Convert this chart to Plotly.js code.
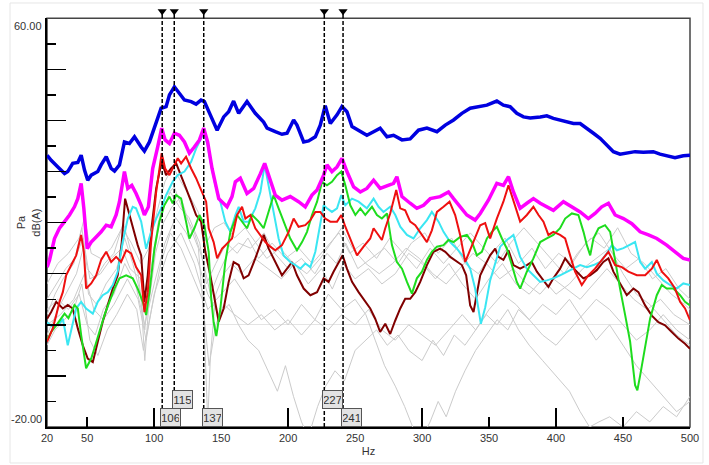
<!DOCTYPE html>
<html><head><meta charset="utf-8">
<script src="https://cdn.plot.ly/plotly-3.0.1.min.js"></script>
<style>html,body{margin:0;padding:0;background:#fff}#chart{width:709px;height:465px}</style>
</head><body><div id="chart"></div>
<script>
// ---- data: [Hz, dB(A)] pairs ----
const blueSeries = [[20.1,33.2],[23.1,32.2],[28.1,30.9],[33.1,29.6],[35.5,30.0],[39.2,31.6],[43.0,31.8],[45.5,33.2],[48.0,30.3],[50.4,28.3],[53.0,29.3],[57.9,30.0],[60.4,31.3],[64.2,32.9],[67.9,30.6],[70.4,30.1],[74.1,31.3],[77.8,35.8],[81.5,35.5],[85.3,36.8],[90.3,34.8],[92.7,34.0],[96.5,35.8],[100.2,38.8],[105.2,42.4],[108.9,42.7],[111.4,45.0],[115.1,46.6],[118.8,45.3],[122.6,44.0],[127.6,43.7],[131.3,43.2],[135.0,44.0],[137.5,43.7],[141.9,41.1],[147.0,38.1],[151.9,40.7],[155.6,41.7],[159.3,43.8],[163.1,41.4],[169.3,43.7],[175.5,41.4],[181.7,39.7],[184.3,38.5],[190.4,37.8],[195.4,37.3],[199.2,37.5],[204.1,40.1],[206.6,39.1],[211.6,35.8],[215.3,36.0],[220.3,36.8],[224.0,39.1],[227.7,42.9],[231.5,39.4],[236.5,41.1],[240.2,42.7],[243.9,41.7],[247.7,38.8],[252.6,38.1],[258.8,37.1],[263.8,37.8],[268.7,38.5],[273.8,36.8],[278.7,37.1],[285.0,36.2],[291.1,36.4],[297.3,38.1],[303.6,38.5],[311.1,37.8],[317.3,39.1],[323.5,40.1],[329.7,41.4],[335.9,42.4],[343.4,42.7],[348.4,43.0],[355.8,43.8],[360.7,43.0],[365.7,42.7],[370.7,41.4],[375.7,40.7],[380.7,40.5],[388.2,40.7],[393.1,40.9],[398.0,40.4],[403.0,40.1],[408.0,39.7],[413.0,39.4],[418.0,39.4],[423.0,38.5],[427.9,37.5],[432.9,36.5],[437.9,35.2],[442.8,33.9],[447.8,33.4],[452.8,33.6],[459.0,33.9],[465.2,33.8],[472.6,33.9],[477.6,33.4],[483.8,33.1],[488.8,32.7],[495.0,33.1],[500,33.2]];

const magentaSeries = [[20.1,11.3],[21.9,12.7],[25.6,16.9],[29.3,18.9],[33.1,20.2],[36.8,21.5],[40.5,23.1],[43.0,24.7],[45.5,27.7],[47.5,22.8],[50.0,14.9],[53.0,16.2],[56.7,17.2],[60.4,18.2],[64.2,19.5],[67.9,19.2],[71.6,21.5],[74.1,24.1],[77.8,30.0],[80.3,26.7],[83.3,27.3],[86.5,25.7],[90.3,23.4],[92.7,21.5],[95.7,23.1],[98.9,30.6],[102.6,34.8],[105.6,38.5],[108.2,36.2],[111.4,35.5],[115.1,37.5],[118.8,37.1],[122.6,35.8],[126.3,33.6],[130.0,34.8],[133.8,36.2],[137.0,38.5],[139.9,35.8],[143.2,30.6],[148.2,24.7],[154.4,23.1],[158.1,25.1],[160.6,28.0],[164.3,28.7],[169.3,25.7],[174.3,26.7],[179.3,29.6],[182.5,31.6],[185.4,29.3],[190.4,25.4],[195.4,24.4],[201.6,25.1],[207.8,24.1],[212.8,23.1],[217.8,25.4],[221.6,26.4],[226.5,29.3],[229.0,31.3],[232.7,30.0],[236.5,30.9],[240.2,32.6],[243.9,30.0],[248.9,27.0],[253.9,26.0],[258.8,26.7],[263.8,28.3],[268.7,26.7],[273.8,27.3],[278.7,27.7],[281.2,29.0],[285.0,25.1],[291.1,23.8],[296.1,22.8],[301.1,23.4],[306.1,24.7],[313.5,25.1],[319.7,26.0],[323.5,24.7],[328.4,23.1],[333.4,21.5],[339.6,20.5],[343.4,21.8],[349.5,24.4],[355.8,27.7],[360.7,27.3],[364.5,29.0],[368.2,26.0],[373.2,22.8],[378.2,23.8],[383.1,24.7],[388.2,23.8],[393.1,23.1],[398.0,22.4],[405.5,24.1],[411.8,23.1],[418.0,22.1],[424.1,20.8],[429.1,21.8],[434.1,23.1],[439.1,23.8],[444.1,21.5],[450.3,20.8],[456.6,19.8],[462.8,18.2],[469.0,17.6],[475.2,16.9],[482.6,15.6],[488.8,14.3],[495.0,13.0],[500,12.7]];

const redSeries = [[20.1,-3.3],[21.9,-2.0],[24.3,-0.7],[26.9,1.9],[29.3,4.5],[31.8,6.4],[34.3,9.7],[38.1,11.7],[41.8,13.6],[45.5,17.6],[47.5,14.3],[49.2,7.1],[53.0,8.1],[56.7,9.7],[60.4,12.7],[64.2,14.3],[67.9,12.3],[71.6,13.3],[75.3,12.3],[79.1,14.6],[82.8,14.0],[86.5,11.3],[90.3,9.7],[92.7,2.5],[95.2,6.4],[97.7,16.2],[101.5,26.0],[105.6,33.6],[108.2,30.6],[111.4,29.3],[115.1,31.3],[117.6,32.6],[120.1,31.6],[123.8,32.9],[127.6,30.6],[131.3,28.7],[135.0,26.4],[138.8,24.1],[140.7,18.9],[144.4,16.2],[147.0,13.0],[150.7,14.9],[154.4,15.9],[158.1,16.9],[161.9,21.5],[165.6,23.1],[168.1,20.8],[171.8,21.5],[175.5,18.9],[179.3,17.6],[183.0,16.2],[186.7,15.3],[190.4,14.6],[195.4,15.6],[200.4,18.2],[204.1,20.8],[207.8,19.2],[212.8,19.5],[216.6,20.5],[220.3,22.1],[224.0,22.1],[227.7,20.8],[231.5,20.2],[236.5,20.2],[239.7,21.5],[242.7,19.2],[247.7,15.9],[251.4,13.6],[256.3,15.3],[261.3,16.9],[263.8,18.9],[267.5,17.6],[270.0,16.6],[272.5,18.9],[276.2,21.8],[280.7,26.4],[283.7,22.8],[287.4,22.4],[291.1,20.2],[294.9,19.5],[298.6,18.2],[303.6,16.2],[307.3,18.5],[311.1,22.1],[316.0,23.1],[320.5,24.1],[324.7,21.5],[328.4,17.6],[332.2,12.3],[335.9,14.6],[339.6,16.9],[343.4,19.5],[347.1,19.9],[350.8,16.9],[355.8,20.8],[360.7,24.1],[364.5,27.3],[368.2,24.1],[370.7,22.1],[373.2,20.2],[378.2,21.5],[383.1,23.1],[386.9,21.5],[390.6,20.2],[394.3,17.6],[398.0,18.2],[403.0,17.6],[406.8,16.9],[410.5,13.6],[414.2,10.4],[419.2,7.8],[424.1,9.7],[429.1,11.0],[434.1,12.7],[439.1,14.3],[444.1,11.7],[449.1,11.3],[454.0,10.4],[460.3,9.7],[466.5,9.7],[471.5,11.0],[475.2,12.7],[479.0,10.4],[483.8,9.1],[488.8,7.1],[492.6,4.5],[496.3,3.2],[500,0.9]];

const greenSeries = [[20.1,-3.0],[23.1,-1.4],[26.9,-0.1],[30.6,1.2],[33.1,2.2],[36.0,1.3],[40.5,3.9],[43.0,3.2],[45.5,-2.0],[49.2,-8.5],[53.0,-6.6],[55.4,-4.6],[59.2,-1.4],[62.9,1.9],[66.6,4.5],[70.4,7.1],[74.1,9.1],[79.1,9.7],[84.0,9.1],[87.7,7.1],[91.5,4.5],[94.0,1.9],[96.5,6.4],[100.2,14.9],[103.9,20.2],[107.6,23.4],[111.4,25.1],[113.8,23.8],[116.4,25.4],[120.1,24.7],[123.8,20.2],[126.3,16.9],[130.0,18.9],[133.8,21.5],[137.5,19.5],[140.7,14.3],[142.5,5.4],[144.4,0.5],[146.4,-2.2],[149.4,3.1],[153.1,12.3],[156.9,18.2],[161.9,21.5],[165.6,20.2],[169.3,18.9],[173.1,21.5],[178.0,20.2],[181.7,18.9],[186.7,23.4],[189.2,25.4],[192.9,22.8],[196.6,20.2],[201.6,16.9],[206.6,14.6],[210.4,16.2],[214.1,18.2],[217.8,21.5],[221.6,24.1],[225.3,28.0],[229.0,27.3],[232.7,28.0],[236.5,29.3],[239.7,30.0],[242.7,27.3],[246.4,23.4],[250.2,21.5],[253.9,22.8],[257.6,21.5],[262.6,23.1],[266.3,21.5],[270.0,20.8],[273.8,21.8],[277.5,15.6],[281.2,12.3],[285.0,11.0],[288.7,8.4],[292.4,6.1],[296.1,9.1],[299.9,10.4],[303.6,12.7],[307.3,14.3],[311.1,15.3],[316.0,15.6],[319.7,16.6],[323.5,16.2],[328.4,17.2],[333.4,17.6],[337.2,16.2],[340.9,13.6],[344.6,14.3],[348.4,16.9],[352.1,18.2],[355.8,19.2],[359.6,16.9],[363.3,14.9],[367.0,11.7],[370.7,8.4],[373.2,7.1],[378.2,10.4],[383.1,13.0],[388.2,16.2],[393.1,16.9],[398.0,17.6],[403.0,18.9],[406.8,20.8],[411.8,21.8],[416.7,21.5],[420.5,18.2],[423.0,15.6],[425.5,13.6],[427.9,16.9],[431.7,18.9],[436.6,19.5],[440.4,18.2],[444.1,12.3],[447.8,7.1],[451.6,1.9],[455.3,-3.3],[459.0,-11.8],[460.7,-12.8],[462.8,-9.9],[466.5,-4.6],[470.2,1.2],[475.2,5.8],[478.9,7.8],[482.6,7.1],[487.6,7.1],[492.6,5.8],[496.3,4.5],[500,3.8]];

const cyanSeries = [[20.1,0.5],[24.3,-0.4],[29.3,0.2],[31.8,1.2],[35.5,-4.0],[38.1,-0.8],[41.8,3.2],[45.5,4.5],[49.2,3.2],[54.2,2.2],[57.9,4.5],[61.6,5.8],[65.4,6.4],[69.1,7.8],[72.8,10.4],[76.5,16.2],[80.3,20.8],[84.0,23.1],[86.5,22.8],[90.3,20.2],[94.0,14.9],[97.7,18.2],[101.5,20.8],[105.2,22.8],[108.9,25.4],[113.8,28.0],[117.6,29.3],[122.6,30.0],[127.6,31.9],[131.3,34.5],[135.0,36.5],[137.0,37.5],[139.9,35.2],[142.0,31.9],[145.7,27.3],[149.4,24.1],[153.1,20.2],[156.9,18.2],[160.6,21.5],[163.1,23.1],[166.8,20.2],[170.5,20.2],[175.5,22.8],[179.3,26.0],[182.5,31.3],[185.4,27.3],[189.2,21.5],[192.9,16.9],[196.6,13.6],[201.6,12.3],[205.4,11.7],[209.1,11.0],[212.8,12.0],[216.6,11.3],[220.3,14.3],[224.0,20.2],[226.5,23.4],[229.0,22.8],[232.7,22.1],[236.5,22.8],[239.7,25.4],[242.7,23.4],[247.7,24.7],[252.6,24.1],[258.8,22.8],[263.8,24.7],[267.5,23.1],[271.2,22.1],[276.2,23.1],[280.0,21.5],[283.7,19.2],[288.7,17.6],[293.6,16.9],[298.6,18.9],[303.6,20.5],[307.3,22.1],[312.3,20.2],[316.0,18.2],[321.0,16.2],[326.0,14.9],[330.9,13.3],[335.9,11.0],[339.6,7.1],[343.9,0.2],[347.1,3.4],[350.8,8.7],[354.6,12.0],[358.3,15.3],[363.3,16.6],[368.2,17.6],[373.2,13.3],[378.2,11.0],[383.1,9.7],[388.2,8.4],[393.1,8.7],[398.0,9.1],[403.0,9.7],[408.0,10.4],[413.0,11.0],[418.0,11.7],[423.0,11.3],[428.0,11.7],[433.0,12.3],[437.9,14.0],[441.7,15.6],[445.4,14.6],[450.3,15.0],[455.3,15.6],[459.0,16.2],[462.8,12.3],[466.5,11.0],[471.5,12.3],[475.2,10.0],[480.1,8.7],[485.1,7.8],[490.1,7.1],[495.0,8.1],[500,7.8]];

const maroonSeries = [[20.1,1.2],[23.1,2.5],[26.9,4.5],[29.3,3.9],[31.8,3.2],[35.5,3.9],[39.2,3.2],[43.0,-0.7],[46.7,-4.0],[50.4,-6.6],[54.2,-7.3],[57.9,-3.3],[61.6,0.6],[65.4,3.9],[69.1,7.1],[72.8,9.7],[75.8,16.2],[78.3,24.7],[81.5,21.5],[84.0,19.5],[87.7,15.6],[90.3,13.6],[92.7,4.5],[95.2,9.7],[97.7,18.2],[101.5,26.7],[105.6,32.0],[108.9,29.3],[112.6,30.6],[116.4,31.6],[120.1,29.3],[123.8,26.7],[127.6,24.1],[131.3,21.5],[135.0,20.2],[138.2,14.3],[141.9,9.7],[145.7,3.9],[148.2,0.6],[151.9,3.2],[155.6,8.4],[159.3,12.3],[163.1,11.7],[166.8,9.1],[170.5,9.7],[175.5,13.0],[179.3,15.6],[181.8,17.6],[185.5,14.9],[190.4,12.3],[195.4,9.7],[199.2,11.0],[202.9,12.3],[206.6,9.7],[211.6,7.1],[216.6,5.8],[221.6,6.4],[226.5,9.1],[230.2,8.4],[233.9,10.4],[237.7,12.3],[240.7,13.6],[243.9,11.0],[247.7,8.4],[252.6,6.4],[257.6,4.5],[261.3,3.2],[265.0,1.2],[268.7,-1.4],[272.5,0.2],[276.2,-1.8],[279.9,0.8],[283.7,3.2],[287.4,5.1],[291.1,5.1],[294.9,6.4],[298.6,8.4],[303.6,11.7],[308.5,14.3],[313.5,14.9],[317.3,14.3],[321.0,13.3],[326.0,12.3],[329.7,11.7],[332.9,9.7],[335.9,3.8],[338.4,2.5],[340.9,6.4],[343.4,9.7],[347.1,11.7],[350.8,13.6],[354.6,14.9],[357.0,13.3],[360.7,12.7],[364.5,14.6],[368.2,11.7],[373.2,11.0],[378.2,11.7],[381.9,12.3],[385.7,10.4],[390.6,8.7],[394.3,7.4],[398.0,9.1],[403.0,11.0],[406.8,13.0],[410.5,11.7],[415.5,10.4],[420.4,9.1],[425.4,9.7],[430.4,10.7],[435.3,12.3],[439.1,13.0],[442.8,10.4],[447.8,8.1],[452.8,5.8],[457.8,7.1],[461.5,6.4],[466.5,3.8],[471.5,1.8],[476.4,0.5],[481.4,-0.1],[486.4,-1.4],[491.4,-2.7],[496.3,-3.7],[500,-4.7]];

const gray1 = [[20,2],[26,6],[32,9],[40,12],[46,19],[50,11],[56,9],[63,12],[70,14],[77,20],[82,15],[88,10],[93,-1],[97,10],[103,20],[108,25],[115,27],[122,22],[130,18],[137,12],[142,6],[148,10],[155,14],[163,16],[172,15],[182,18],[190,14],[200,11],[210,13],[220,10],[229,14],[236,12],[243,16],[252,11],[262,13],[272,15],[282,12],[292,16],[302,18],[312,14],[322,17],[332,12],[342,10],[352,14],[362,17],[372,12],[382,15],[392,11],[402,14],[412,12],[422,16],[432,18],[442,14],[452,11],[462,13],[472,9],[482,11],[492,7],[500,5]];
const gray2 = [[20,-2],[25,1],[30,4],[36,7],[42,10],[47,15],[51,6],[57,4],[64,8],[72,11],[78,17],[84,12],[90,6],[93,-7],[96,4],[101,14],[107,20],[113,23],[120,25],[127,19],[133,15],[137,2],[139,-12],[140,-19],[142,-6],[146,6],[152,10],[158,12],[165,10],[175,13],[185,11],[195,9],[205,12],[215,8],[225,11],[233,7],[241,12],[250,9],[260,11],[270,8],[280,10],[290,14],[300,12],[310,9],[320,12],[330,8],[340,5],[350,9],[360,12],[370,8],[380,6],[390,9],[400,6],[410,8],[420,11],[430,13],[440,15],[450,10],[460,6],[470,4],[480,1],[490,-2],[500,-4]];
const gray3 = [[20,3],[28,5],[36,3],[44,6],[50,0],[56,-2],[62,3],[70,6],[78,12],[86,8],[93,0],[100,8],[108,16],[116,21],[124,18],[132,13],[140,6],[148,2],[156,4],[163,0],[170,-3],[178,-5],[185,-9],[192,-13],[198,-8],[204,-14],[210,-19],[215,-22],[222,-16],[228,-12],[235,-9],[242,-11],[250,-5],[258,-3],[266,-1],[274,-4],[282,-2],[290,-5],[300,-7],[308,-3],[316,-6],[324,-2],[332,-4],[340,-1],[348,2],[356,0],[364,3],[372,-1],[380,-4],[390,-7],[400,-10],[410,-13],[418,-17],[425,-20],[432,-19],[440,-18],[450,-20],[460,-17],[470,-19],[480,-16],[490,-18],[500,-14]];
const gray4 = [[20,0],[30,2],[40,5],[48,10],[55,3],[62,1],[70,4],[80,9],[88,5],[94,-3],[100,6],[110,14],[120,18],[130,12],[140,3],[150,6],[160,9],[170,5],[180,1],[190,3],[200,0],[210,4],[220,1],[230,6],[240,3],[250,5],[258,2],[265,-3],[272,-8],[280,-12],[287,-16],[293,-20],[300,-22],[306,-19],[312,-15],[318,-18],[325,-13],[332,-9],[340,-5],[348,-2],[356,1],[364,-1],[372,3],[380,1],[390,4],[400,2],[410,5],[420,1],[430,-3],[440,0],[450,-4],[460,-8],[470,-11],[480,-14],[490,-17],[500,-15]];
const gray5 = [[20,5],[27,8],[34,11],[41,13],[47,17],[52,9],[60,10],[68,13],[76,15],[82,11],[90,9],[94,2],[99,12],[105,22],[112,26],[119,23],[126,21],[134,16],[139,8],[146,12],[154,16],[162,14],[170,17],[178,13],[188,16],[198,13],[208,15],[218,12],[228,15],[238,18],[246,14],[256,16],[266,13],[276,17],[286,14],[296,11],[306,15],[316,12],[326,15],[336,18],[346,15],[356,12],[366,16],[376,19],[386,16],[396,13],[406,10],[416,14],[426,17],[436,15],[446,19],[456,14],[466,12],[476,9],[486,6],[496,4],[500,3]];
const gray6 = [[20,-4],[26,-1],[33,1],[40,3],[46,8],[52,-3],[58,-6],[65,-1],[72,2],[80,6],[87,3],[92,-5],[98,3],[105,12],[112,18],[120,15],[128,10],[136,5],[141,-8],[146,0],[152,4],[160,2],[170,0],[180,2],[190,-1],[200,1],[210,-2],[220,1],[230,-1],[240,2],[250,0],[260,3],[270,-1],[280,-3],[290,0],[300,-2],[310,-4],[320,-1],[330,2],[340,-1],[350,3],[360,6],[370,4],[380,1],[390,-2],[400,-4],[410,-1],[420,2],[430,5],[440,3],[450,0],[460,-3],[470,-1],[480,2],[490,-1],[500,-3]];
const gray7 = [[20,8],[28,12],[36,14],[44,17],[48,21],[53,14],[60,13],[68,15],[76,19],[83,16],[90,12],[96,15],[102,22],[108,28],[114,31],[120,28],[127,25],[133,22],[139,16],[145,19],[152,20],[160,17],[168,19],[176,16],[184,13],[194,15],[204,12],[214,10],[224,13],[232,16],[240,19],[248,15],[258,12],[268,10],[278,12],[288,15],[298,13],[308,10],[318,8],[328,11],[338,14],[348,12],[358,9],[368,11],[378,8],[388,6],[398,9],[408,7],[418,5],[428,8],[438,11],[448,8],[458,5],[468,3],[478,5],[488,2],[500,0]];

const markerFreqs = [106, 115, 137, 227, 241];
const markerRow = [0, 1, 0, 1, 0];
const xTickVals = [20, 50, 100, 150, 200, 250, 300, 350, 400, 450, 500];
const xTickText = ['20', '50', '100', '150', '200', '250', '300', '350', '400', '450', '500'];
const xLongTicks = [100, 200, 300, 400];
const yMajorTicks = [-20, -10, 0, 10, 20, 30, 40, 50, 60];
const yMinorTicks = [-15, -5, 5, 15, 25, 35, 45, 55];
const yEndLabels = [[60, '60.00'], [-20, '-20.00']];

function lineTrace(data, color, width) {
  return {type: 'scatter', mode: 'lines', x: data.map(p => p[0]), y: data.map(p => p[1]),
    line: {color: color, width: width}, hoverinfo: 'skip', showlegend: false};
}

const traces = [];
[gray1, gray2, gray3, gray4, gray5, gray6, gray7].forEach(g => traces.push(lineTrace(g, '#cbcbcb', 1)));
traces.push(lineTrace(maroonSeries, '#800000', 2));
traces.push(lineTrace(cyanSeries, '#3be6f2', 2));
traces.push(lineTrace(greenSeries, '#1edc1e', 2));
traces.push(lineTrace(redSeries, '#ee1010', 2));
traces.push(lineTrace(magentaSeries, '#ff00ff', 3.5));
traces.push(lineTrace(blueSeries, '#0000e0', 3.5));

// marker cursor lines in the main plot
const mx = [], my = [];
markerFreqs.forEach(f => { mx.push(f, f, null); my.push(-20, 60, null); });
traces.push({type: 'scatter', mode: 'lines', x: mx, y: my,
  line: {color: '#000', width: 1.5, dash: '4px,2px'}, hoverinfo: 'skip', showlegend: false});
// marker heads in the thin strip above the plot
const hx = [], hy = [];
markerFreqs.forEach(f => { hx.push(f, f, null); hy.push(0, 0.5, null); });
traces.push({type: 'scatter', mode: 'lines', x: hx, y: hy, yaxis: 'y3',
  line: {color: '#000', width: 1.5}, hoverinfo: 'skip', showlegend: false});
traces.push({type: 'scatter', mode: 'markers', x: markerFreqs, y: markerFreqs.map(() => 0.5), yaxis: 'y3',
  marker: {symbol: 'triangle-down', size: 8, color: '#000'}, hoverinfo: 'skip', showlegend: false});
traces.push({type: 'scatter', mode: 'markers', x: [null], y: [null], xaxis: 'x2', yaxis: 'y', showlegend: false, hoverinfo: 'skip'});

const annotations = [];
markerFreqs.forEach((f, i) => annotations.push({
  x: f, xref: 'x', y: 0, yref: 'paper', xanchor: 'left', yanchor: 'bottom', xshift: -2, yshift: markerRow[i] * 18,
  text: String(f), showarrow: false, bgcolor: '#e3e3e3', bordercolor: '#555', borderwidth: 1, borderpad: 1,
  width: 17, height: 15, font: {size: 11.5, color: '#333'}
}));
yEndLabels.forEach(([v, t]) => annotations.push({
  x: 0, xref: 'paper', y: v, yref: 'y', xanchor: 'right', yanchor: v > 0 ? 'top' : 'bottom', xshift: -3,
  text: t, showarrow: false, font: {size: 11, color: '#333'}
}));
annotations.push({x: 0, xref: 'paper', y: 20, yref: 'y', xanchor: 'right', yanchor: 'middle', xshift: -4,
  textangle: -90, text: 'Pa<br>dB(A)', showarrow: false, font: {size: 11, color: '#333'}});

const mainTop = 0.96619;
const layout = {
  width: 709, height: 465,
  margin: {l: 47, r: 19, t: 4, b: 38},
  paper_bgcolor: '#fff', plot_bgcolor: '#fff',
  font: {family: 'Liberation Sans, Arial, sans-serif', size: 11, color: '#333'},
  showlegend: false,
  xaxis: {range: [20, 500], tickmode: 'array', tickvals: xTickVals, ticktext: xTickText,
    ticks: 'inside', ticklen: 10, tickwidth: 1.5, tickcolor: '#000',
    showline: true, linecolor: '#000', linewidth: 2, showgrid: false, zeroline: false,
    title: {text: 'Hz', font: {size: 11, color: '#333'}, standoff: 4}, automargin: false, fixedrange: true},
  xaxis2: {overlaying: 'x', anchor: 'y', side: 'bottom', range: [20, 500], tickmode: 'array', tickvals: xLongTicks,
    ticks: 'inside', ticklen: 19, tickwidth: 1.5, tickcolor: '#000', showticklabels: false,
    showline: false, showgrid: false, zeroline: false, fixedrange: true},
  yaxis: {domain: [0, mainTop], range: [-20, 60], tickmode: 'array', tickvals: yMajorTicks, showticklabels: false,
    ticks: 'inside', ticklen: 19, tickwidth: 1.5, tickcolor: '#000',
    minor: {tickmode: 'array', tickvals: yMinorTicks, ticks: 'inside', ticklen: 9, tickwidth: 1.5, tickcolor: '#000', showgrid: false},
    showline: true, linecolor: '#000', linewidth: 2, showgrid: false,
    zeroline: true, zerolinecolor: '#e4e4e4', zerolinewidth: 1, automargin: false, fixedrange: true},
  yaxis3: {domain: [mainTop, 1], range: [0, 1], anchor: 'x', visible: false, fixedrange: true},
  shapes: [
    {type: 'rect', xref: 'paper', yref: 'paper', x0: 0, x1: 1, y0: 0, y1: mainTop, line: {color: '#444', width: 1.5}, layer: 'below'},
    {type: 'rect', xref: 'paper', yref: 'paper', x0: -0.0575, x1: 1.0202, y0: -0.0851, y1: 1.0024, line: {color: '#e6e6e6', width: 1}, layer: 'below'}
  ],
  annotations: annotations
};

Plotly.newPlot('chart', traces, layout, {displayModeBar: false, staticPlot: true});
</script></body></html>
